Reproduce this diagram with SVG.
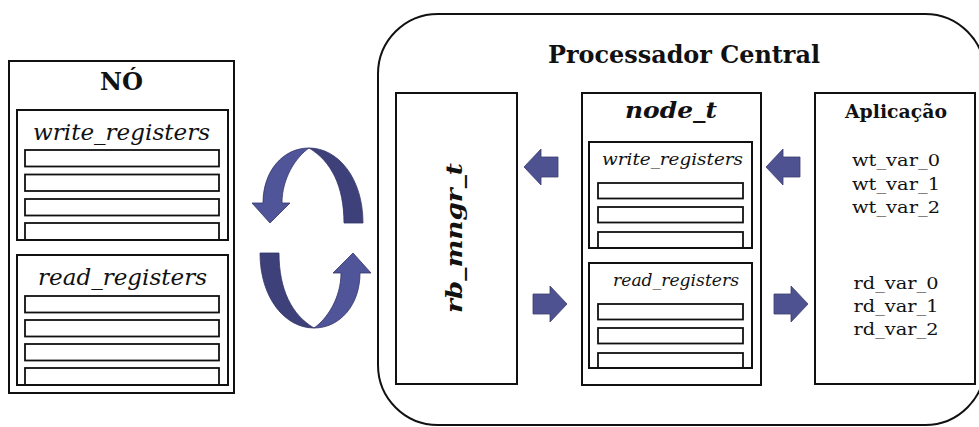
<svg xmlns="http://www.w3.org/2000/svg" width="979" height="427" viewBox="0 0 979 427">
  <style>
    .box { fill: #ffffff; stroke: #111111; stroke-width: 2; }
    .frame { fill: none; stroke: #111111; stroke-width: 2; }
    .reg { fill: #ffffff; stroke: #111111; stroke-width: 1.8; }
    .t { font-family: "DejaVu Serif", "Liberation Serif", serif; fill: #111111; }
    .b { font-weight: bold; }
    .i { font-style: italic; }
    .var { font-size: 17px; }
    .arrow { fill: #4f5291; stroke: #3a3c70; stroke-width: 0.8; }
    .front { fill: #505498; stroke: #33356a; stroke-width: 0.8; }
    .back { fill: #3d4079; stroke: #33356a; stroke-width: 0.8; }
  </style>
  <defs>
    <!-- block arrow pointing right, origin at the tail centre -->
    <path id="blk" d="M0,-10 L17,-10 L17,-18 L34,0 L17,18 L17,10 L0,10 Z"/>
    <!-- half of the cycle symbol: ribbon bent over the top, head pointing down -->
    <g id="halfCycle">
      <path class="back" d="M309,148 C338,148 363,178 363,223 L344,223 C344,186 331,161 309,148 Z"/>
      <path class="front" d="M252,203 L263,203 C263,171 283,148 309,148 C296,157 282,178 282,203 L290,203 L270,223 Z"/>
    </g>
  </defs>

  <!-- remote node -->
  <g id="no">
    <rect class="box" x="9" y="61" width="225" height="332"/>
    <text class="t b" x="121.5" y="90" font-size="24" text-anchor="middle" textLength="43" lengthAdjust="spacingAndGlyphs">NÓ</text>
    <g id="no-write">
      <text class="t i" x="121.5" y="140" font-size="22" text-anchor="middle" textLength="177" lengthAdjust="spacingAndGlyphs">write_registers</text>
      <rect class="reg" x="25" y="150" width="194" height="16.5"/>
      <rect class="reg" x="25" y="174.5" width="194" height="16.5"/>
      <rect class="reg" x="25" y="199" width="194" height="16.5"/>
      <rect class="reg" x="25" y="223" width="194" height="17"/>
      <rect class="frame" x="17" y="110" width="211" height="130"/>
    </g>
    <g id="no-read">
      <text class="t i" x="122.5" y="285" font-size="22" text-anchor="middle" textLength="169" lengthAdjust="spacingAndGlyphs">read_registers</text>
      <rect class="reg" x="25" y="296" width="194" height="16.5"/>
      <rect class="reg" x="25" y="320" width="194" height="16.5"/>
      <rect class="reg" x="25" y="344" width="194" height="16.5"/>
      <rect class="reg" x="25" y="368" width="194" height="17"/>
      <rect class="frame" x="17" y="255" width="211" height="130"/>
    </g>
  </g>

  <!-- exchange cycle between node and central processor -->
  <g id="cycle">
    <use href="#halfCycle"/>
    <use href="#halfCycle" transform="rotate(180 311.5 238)"/>
  </g>

  <!-- central processor -->
  <g id="processador">
    <rect class="frame" x="378" y="14" width="607" height="411" rx="60" ry="60"/>
    <text class="t b" x="684" y="63" font-size="24" text-anchor="middle" textLength="272" lengthAdjust="spacingAndGlyphs">Processador Central</text>
  </g>

  <g id="rb_mngr">
    <rect class="box" x="396" y="93" width="121" height="291"/>
    <text class="t b i" transform="translate(462 238) rotate(-90)" x="0" y="0" font-size="23" text-anchor="middle" textLength="150" lengthAdjust="spacingAndGlyphs">rb_mngr_t</text>
  </g>

  <g id="node_t">
    <rect class="box" x="582" y="93" width="179" height="292"/>
    <text class="t b i" x="671" y="118" font-size="23" text-anchor="middle" textLength="92" lengthAdjust="spacingAndGlyphs">node_t</text>
    <g id="node-write">
      <text class="t i" x="672.5" y="165" font-size="17" text-anchor="middle" textLength="141" lengthAdjust="spacingAndGlyphs">write_registers</text>
      <rect class="reg" x="598" y="183" width="145" height="15.5"/>
      <rect class="reg" x="598" y="207" width="145" height="15.5"/>
      <rect class="reg" x="598" y="232" width="145" height="16"/>
      <rect class="frame" x="589" y="142" width="163" height="106"/>
    </g>
    <g id="node-read">
      <text class="t i" x="676" y="286" font-size="17" text-anchor="middle" textLength="126" lengthAdjust="spacingAndGlyphs">read_registers</text>
      <rect class="reg" x="598" y="304" width="145" height="15.5"/>
      <rect class="reg" x="598" y="328" width="145" height="15.5"/>
      <rect class="reg" x="598" y="353" width="145" height="15"/>
      <rect class="frame" x="589" y="263" width="163" height="105"/>
    </g>
  </g>

  <g id="aplicacao">
    <rect class="box" x="815" y="93" width="160" height="291"/>
    <text class="t b" x="896" y="118" font-size="18" text-anchor="middle" textLength="102" lengthAdjust="spacingAndGlyphs">Aplicação</text>
    <text class="t var" x="896" y="166" text-anchor="middle" textLength="88" lengthAdjust="spacingAndGlyphs">wt_var_0</text>
    <text class="t var" x="896" y="190" text-anchor="middle" textLength="88" lengthAdjust="spacingAndGlyphs">wt_var_1</text>
    <text class="t var" x="896" y="213" text-anchor="middle" textLength="88" lengthAdjust="spacingAndGlyphs">wt_var_2</text>
    <text class="t var" x="896" y="289" text-anchor="middle" textLength="85" lengthAdjust="spacingAndGlyphs">rd_var_0</text>
    <text class="t var" x="896" y="312" text-anchor="middle" textLength="85" lengthAdjust="spacingAndGlyphs">rd_var_1</text>
    <text class="t var" x="896" y="335" text-anchor="middle" textLength="85" lengthAdjust="spacingAndGlyphs">rd_var_2</text>
  </g>

  <!-- data flow arrows -->
  <g id="connectors">
    <use href="#blk" class="arrow" transform="translate(558 167) scale(-1 1)"/>
    <use href="#blk" class="arrow" transform="translate(533 304)"/>
    <use href="#blk" class="arrow" transform="translate(800 167) scale(-1 1)"/>
    <use href="#blk" class="arrow" transform="translate(774 304)"/>
  </g>
</svg>
